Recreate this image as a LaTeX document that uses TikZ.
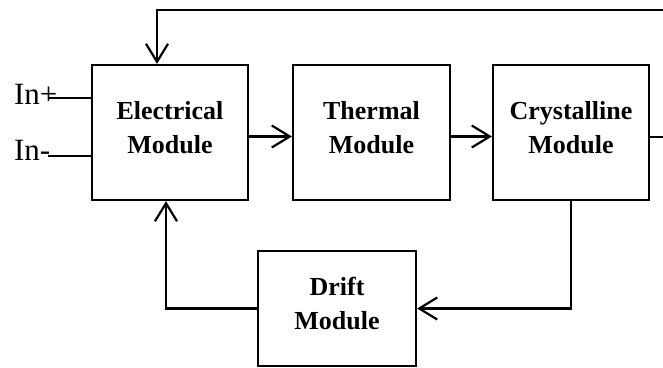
\documentclass[tikz,border=0pt]{standalone}
\usepackage{fontspec}
\setmainfont{Liberation Serif}
\usetikzlibrary{arrows.meta,calc}
\begin{document}
\begin{tikzpicture}[x=1pt,y=-1pt,line width=2.2pt,
  box/.style={draw,rectangle,minimum width=156pt,minimum height=135pt,inner sep=0pt,
    align=center,font=\fontsize{26}{34}\selectfont\bfseries,text depth=11pt},
  inlbl/.style={inner sep=0pt,font=\fontsize{31}{36}\selectfont},
  arr/.style={-{Straight Barb[length=18pt,width=22pt,line width=2.2pt]}}]
\useasboundingbox (0,0) rectangle (663,367);
\clip (0,0) rectangle (663,367);
\node[box] (elec) at (170,132.5) {Electrical\\Module};
\node[box,minimum width=157pt] (therm) at (371.5,132.5) {Thermal\\Module};
\node[box] (cry) at (571,132.5) {Crystalline\\Module};
\node[box,minimum width=158pt,minimum height=115pt] (drift) at (337,308.5) {Drift\\Module};
\node[inlbl,anchor=base west] (inp) at (13,104) {In+};
\node[inlbl,anchor=base west] (inm) at (13,160) {In-};
\coordinate (pin) at (48,98);
\coordinate (min) at (48,156);
\coordinate (topl) at (157,10);
\draw (pin) -- (pin -| elec.west);
\draw (min) -- (min -| elec.west);
\draw[arr] ([yshift=-4pt]elec.east) -- ([yshift=-4pt]therm.west);
\draw[arr] ([yshift=-4pt]therm.east) -- ([yshift=-4pt]cry.west);
\draw[arr] ([yshift=-4.5pt]cry.east) -- ++(40,0) |- (topl) -- (topl |- elec.north);
\draw[arr] (cry.south) |- (drift.east);
\draw[arr] (drift.west) -| ([xshift=-4pt]elec.south);
\end{tikzpicture}
\end{document}
